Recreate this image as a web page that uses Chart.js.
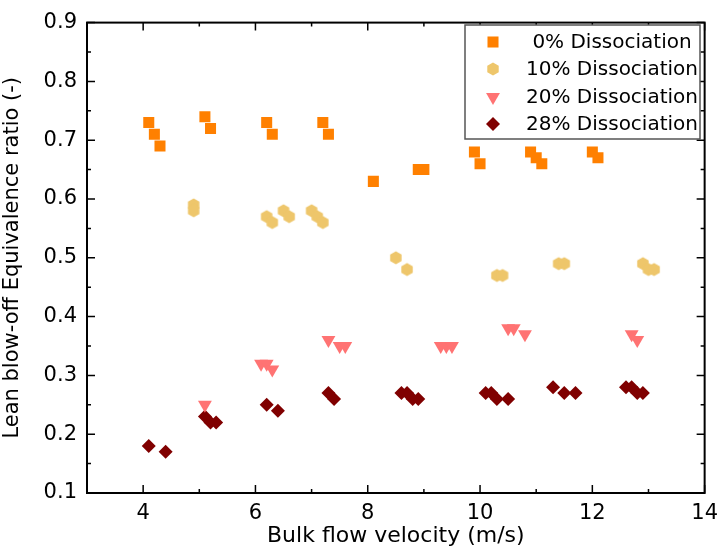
<!DOCTYPE html>
<html>
<head>
  <title>Lean blow-off equivalence ratio</title>
  <script src="https://cdn.jsdelivr.net/npm/chart.js"></script>
  <style>
    body { margin: 0; background: #fff; }
    #wrap { width: 726px; height: 552px; }
  </style>
</head>
<body>
<div id="wrap"><canvas id="myChart" width="726" height="552"></canvas></div>
<script>
// values
const seriesNames = ['0% Dissociation', '10% Dissociation', '20% Dissociation', '28% Dissociation'];

const x0 = [4.1, 4.2, 4.3, 5.1, 5.2, 6.2, 6.3, 7.2, 7.3, 8.1, 8.9, 9.0, 9.9, 10.0, 10.9, 11.0, 11.1, 12.0, 12.1];
const y0 = [0.73, 0.71, 0.69, 0.74, 0.72, 0.73, 0.71, 0.73, 0.71, 0.63, 0.65, 0.65, 0.68, 0.66, 0.68, 0.67, 0.66, 0.68, 0.67];

const x10 = [4.9, 4.9, 6.2, 6.3, 6.5, 6.6, 7.0, 7.1, 7.2, 8.5, 8.7, 10.3, 10.4, 11.4, 11.5, 12.9, 13.0, 13.1];
const y10 = [0.59, 0.58, 0.57, 0.56, 0.58, 0.57, 0.58, 0.57, 0.56, 0.50, 0.48, 0.47, 0.47, 0.49, 0.49, 0.49, 0.48, 0.48];

const x20 = [5.1, 6.1, 6.2, 6.3, 7.3, 7.5, 7.6, 9.3, 9.4, 9.5, 10.5, 10.6, 10.8, 12.7, 12.8];
const y20 = [0.25, 0.32, 0.32, 0.31, 0.36, 0.35, 0.35, 0.35, 0.35, 0.35, 0.38, 0.38, 0.37, 0.37, 0.36];

const x28 = [4.1, 4.4, 5.1, 5.2, 5.3, 6.2, 6.4, 7.3, 7.4, 8.6, 8.7, 8.8, 8.9, 10.1, 10.2, 10.3, 10.5, 11.3, 11.5, 11.7, 12.6, 12.7, 12.8, 12.9];
const y28 = [0.18, 0.17, 0.23, 0.22, 0.22, 0.25, 0.24, 0.27, 0.26, 0.27, 0.27, 0.26, 0.26, 0.27, 0.27, 0.26, 0.26, 0.28, 0.27, 0.27, 0.28, 0.28, 0.27, 0.27];

const xTicks = [4, 6, 8, 10, 12, 14];
const yTicks = [0.1, 0.2, 0.3, 0.4, 0.5, 0.6, 0.7, 0.8, 0.9];

// hexagon symbol (chart.js has none), vertex pointing up
function hexagon(r, color) {
  const s = 16;
  const c = document.createElement('canvas');
  c.width = s; c.height = s;
  const g = c.getContext('2d');
  g.fillStyle = color;
  g.beginPath();
  for (let i = 0; i < 6; i++) {
    const a = Math.PI / 3 * i;
    const px = s / 2 + r * Math.sin(a), py = s / 2 - r * Math.cos(a);
    if (i) g.lineTo(px, py); else g.moveTo(px, py);
  }
  g.closePath();
  g.fill();
  return c;
}

function pts(xs, ys) {
  return xs.map((v, i) => ({x: v, y: ys[i]}));
}

const datasets = [
  {label: seriesNames[0], data: pts(x0, y0), pointStyle: 'rect', pointRadius: 7.8, backgroundColor: '#ff8000'},
  {label: seriesNames[1], data: pts(x10, y10), pointStyle: hexagon(6.6, '#eec66b'), pointRadius: 7, backgroundColor: '#eec66b'},
  {label: seriesNames[2], data: pts(x20, y20), pointStyle: 'triangle', rotation: 180, pointRadius: 8, backgroundColor: '#ff7373'},
  {label: seriesNames[3], data: pts(x28, y28), pointStyle: 'rectRot', pointRadius: 7, backgroundColor: '#800000'}
];
datasets.forEach(d => {
  d.pointBackgroundColor = d.backgroundColor;
  d.pointBorderWidth = 0;
  d.borderWidth = 0;
  d.pointHoverRadius = d.pointRadius;
});

// frame with inward major/minor ticks on all four sides, plus the boxed legend
const framePlugin = {
  id: 'frame',
  afterDraw(chart) {
    const {ctx, chartArea: a, scales: {x, y}} = chart;
    ctx.save();
    ctx.strokeStyle = '#000';
    ctx.lineWidth = 1.5;
    ctx.beginPath();
    for (let v = 3; v <= 14; v++) {
      const px = x.getPixelForValue(v);
      const len = v % 2 === 0 ? 8 : 4;
      ctx.moveTo(px, a.bottom); ctx.lineTo(px, a.bottom - len);
      ctx.moveTo(px, a.top); ctx.lineTo(px, a.top + len);
    }
    for (let i = 2; i <= 18; i++) {
      const py = y.getPixelForValue(i * 0.05);
      const len = i % 2 === 0 ? 8 : 4;
      ctx.moveTo(a.left, py); ctx.lineTo(a.left + len, py);
      ctx.moveTo(a.right, py); ctx.lineTo(a.right - len, py);
    }
    ctx.stroke();
    ctx.lineWidth = 2;
    ctx.strokeRect(a.left, a.top, a.width, a.height);

    // legend
    const bx = 465, by = 25, bw = 235, bh = 114;
    ctx.fillStyle = '#fff';
    ctx.fillRect(bx, by, bw, bh);
    ctx.strokeStyle = '#555';
    ctx.lineWidth = 1.5;
    ctx.strokeRect(bx, by, bw, bh);
    const rowY = [42, 69, 97, 124];
    ctx.font = '20px "DejaVu Sans"';
    ctx.textAlign = 'center';
    ctx.textBaseline = 'middle';
    chart.data.datasets.forEach((d, i) => {
      ctx.fillStyle = d.backgroundColor;
      Chart.helpers.drawPoint(ctx, {
        pointStyle: d.pointStyle, rotation: d.rotation || 0,
        radius: d.pointRadius, borderWidth: 0
      }, 493, rowY[i]);
      ctx.fillStyle = '#000';
      ctx.fillText(d.label, 612, rowY[i] + 1);
    });
    ctx.restore();
  }
};

const tickFont = {family: '"DejaVu Sans"', size: 21};

const ctx = document.getElementById('myChart').getContext('2d');
const myChart = new Chart(ctx, {
  type: 'scatter',
  data: {datasets: datasets},
  options: {
    responsive: false,
    animation: false,
    layout: {padding: {top: 21, right: 16, left: 0, bottom: 0}},
    plugins: {legend: {display: false}, tooltip: {enabled: false}},
    scales: {
      x: {
        type: 'linear', min: 3, max: 14,
        grid: {display: false, drawTicks: false},
        border: {display: false},
        afterBuildTicks: s => { s.ticks = xTicks.map(v => ({value: v})); },
        afterFit: s => { s.height = 59; },
        ticks: {color: '#000', font: tickFont, padding: 8},
        title: {display: true, text: 'Bulk flow velocity (m/s)', color: '#000',
                font: {family: '"DejaVu Sans"', size: 22}, padding: {top: 0, bottom: 3}}
      },
      y: {
        type: 'linear', min: 0.1, max: 0.9,
        grid: {display: false, drawTicks: false},
        border: {display: false},
        afterBuildTicks: s => { s.ticks = yTicks.map(v => ({value: v})); },
        afterFit: s => { s.width = 87; },
        ticks: {color: '#000', font: tickFont, padding: 10, callback: v => v.toFixed(1)},
        title: {display: true, text: 'Lean blow-off Equivalence ratio (-)', color: '#000',
                font: {family: '"DejaVu Sans"', size: 21}, padding: {top: 0, bottom: 13}}
      }
    }
  },
  plugins: [framePlugin]
});
</script>
</body>
</html>
